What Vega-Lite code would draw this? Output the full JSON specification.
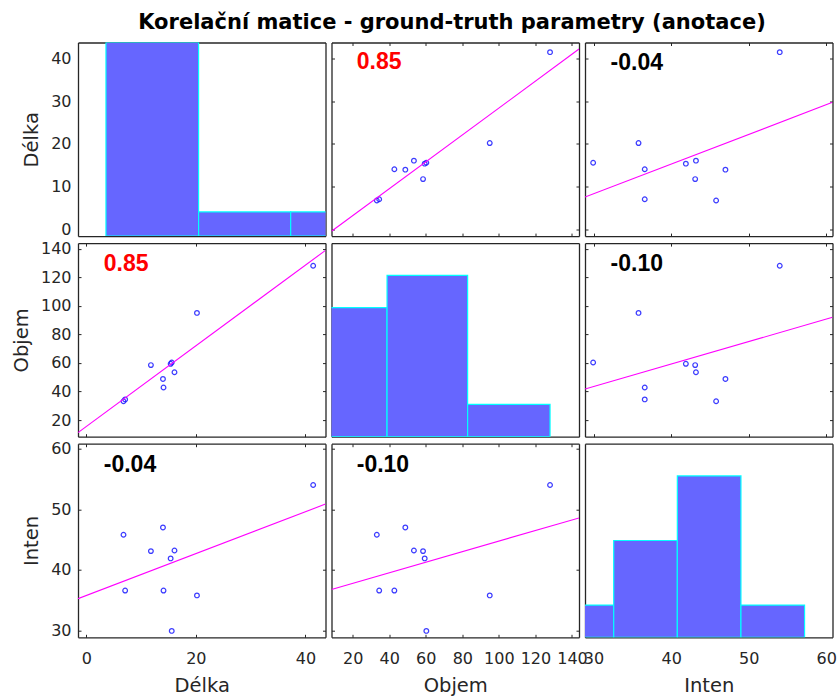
{
  "$schema": "https://vega.github.io/schema/vega-lite/v6.json",
  "background": "white",
  "padding": {"left": 11, "top": 11.5, "right": 2, "bottom": 3},
  "title": {"text": "Korelační matice - ground-truth parametry (anotace)", "font": "DejaVu Sans", "fontSize": 21, "fontWeight": "bold", "color": "#000000", "anchor": "middle", "frame": "bounds", "dx": 28, "offset": 9},
  "datasets": {
    "obs": [
      {"id": "A", "Délka": 6.8, "Objem": 33.2, "Inten": 45.8},
      {"id": "B", "Délka": 7.1, "Objem": 34.5, "Inten": 36.6},
      {"id": "C", "Délka": 11.8, "Objem": 58.5, "Inten": 43.1},
      {"id": "D", "Délka": 14.0, "Objem": 48.8, "Inten": 47.0},
      {"id": "E", "Délka": 14.1, "Objem": 42.8, "Inten": 36.6},
      {"id": "F", "Délka": 15.4, "Objem": 59.4, "Inten": 41.9},
      {"id": "G", "Délka": 16.1, "Objem": 53.5, "Inten": 43.2},
      {"id": "H", "Délka": 20.2, "Objem": 95.0, "Inten": 35.8},
      {"id": "I", "Délka": 15.6, "Objem": 60.3, "Inten": 29.95},
      {"id": "J", "Délka": 41.4, "Objem": 128.0, "Inten": 54.0}
    ],
    "hist": [
      {"var": "Délka", "lo": 3.6, "hi": 20.5, "count": 8},
      {"var": "Délka", "lo": 20.5, "hi": 37.3, "count": 1},
      {"var": "Délka", "lo": 37.3, "hi": 54.1, "count": 1},
      {"var": "Objem", "lo": -5.5, "hi": 38.8, "count": 4},
      {"var": "Objem", "lo": 38.8, "hi": 82.9, "count": 5},
      {"var": "Objem", "lo": 82.9, "hi": 128.0, "count": 1},
      {"var": "Inten", "lo": 24.4, "hi": 32.6, "count": 1},
      {"var": "Inten", "lo": 32.6, "hi": 40.8, "count": 3},
      {"var": "Inten", "lo": 40.8, "hi": 49.0, "count": 5},
      {"var": "Inten", "lo": 49.0, "hi": 57.2, "count": 1}
    ],
    "ann": [
      {"row": "Délka", "col": "Objem", "r": "0.85"},
      {"row": "Délka", "col": "Inten", "r": "-0.04"},
      {"row": "Objem", "col": "Délka", "r": "0.85"},
      {"row": "Objem", "col": "Inten", "r": "-0.10"},
      {"row": "Inten", "col": "Délka", "r": "-0.04"},
      {"row": "Inten", "col": "Objem", "r": "-0.10"}
    ]
  },
  "columns": 3,
  "spacing": {"row": 6.6, "column": 5.5},
  "bounds": "flush",
  "concat": [
    {
      "width": 247.5, "height": 193.6,
      "layer": [
        {"data": {"name": "obs"}, "mark": {"type": "point", "opacity": 0},
         "encoding": {
           "x": {"field": "Délka", "type": "quantitative", "scale": {"domain": [-1.5, 43.65], "nice": false, "zero": false}, "axis": {"orient": "bottom", "values": [0, 20, 40], "tickOpacity": 0, "labels": false, "title": null}},
           "y": {"field": "Délka", "type": "quantitative", "scale": {"domain": [-1.5, 43.65], "nice": false, "zero": false}, "axis": {"orient": "left", "values": [0, 10, 20, 30, 40], "tickOpacity": 0, "labels": true, "title": "Délka"}}}},
        {"data": {"name": "hist"}, "transform": [{"filter": "datum.var === 'Délka'"}],
         "mark": {"type": "rect", "fill": "#6666ff", "stroke": "#00ffff", "strokeWidth": 1.2, "clip": true},
         "encoding": {
           "x": {"field": "lo", "type": "quantitative", "axis": {"orient": "top", "tickOpacity": 0, "labels": false, "title": null}},
           "x2": {"field": "hi"},
           "y": {"field": "count", "type": "quantitative", "scale": {"domain": [0, 8], "nice": false}, "axis": {"orient": "right", "tickOpacity": 0, "labels": false, "title": null}},
           "y2": {"datum": 0}}}
      ],
      "resolve": {"scale": {"y": "independent"}, "axis": {"x": "independent", "y": "independent"}}
    },
    {
      "width": 247.5, "height": 193.6,
      "layer": [
        {"data": {"name": "obs"}, "mark": {"type": "point", "shape": "circle", "filled": false, "size": 22, "color": "#1a1aff", "strokeWidth": 1.2, "opacity": 0.85},
         "encoding": {
           "x": {"field": "Objem", "type": "quantitative", "scale": {"domain": [8.4, 143.85], "nice": false, "zero": false}, "axis": {"orient": "bottom", "values": [20, 40, 60, 80, 100, 120, 140], "labels": false, "title": null}},
           "y": {"field": "Délka", "type": "quantitative", "scale": {"domain": [-1.5, 43.65], "nice": false, "zero": false}, "axis": {"orient": "left", "values": [0, 10, 20, 30, 40], "labels": false, "title": null}}}},
        {"data": {"name": "obs"}, "transform": [{"regression": "Délka", "on": "Objem", "extent": [8.4, 143.85]}],
         "mark": {"type": "line", "color": "#ff00ff", "strokeWidth": 1.1, "clip": true},
         "encoding": {
           "x": {"field": "Objem", "type": "quantitative", "axis": {"orient": "top", "values": [20, 40, 60, 80, 100, 120, 140], "labels": false, "title": null}},
           "y": {"field": "Délka", "type": "quantitative", "axis": {"orient": "right", "values": [0, 10, 20, 30, 40], "labels": false, "title": null}}}},
        {"data": {"name": "ann"}, "transform": [{"filter": "datum.row === 'Délka' && datum.col === 'Objem'"}],
         "mark": {"type": "text", "align": "left", "baseline": "middle", "font": "Liberation Sans", "fontWeight": "bold", "fontSize": 23, "color": "#ff0000"},
         "encoding": {"text": {"field": "r"}, "x": {"datum": 22.2, "type": "quantitative", "axis": null}, "y": {"datum": 39.0, "type": "quantitative", "axis": null}}}
      ],
      "resolve": {"axis": {"x": "independent", "y": "independent"}}
    },
    {
      "width": 247.5, "height": 193.6,
      "layer": [
        {"data": {"name": "obs"}, "mark": {"type": "point", "shape": "circle", "filled": false, "size": 22, "color": "#1a1aff", "strokeWidth": 1.2, "opacity": 0.85},
         "encoding": {
           "x": {"field": "Inten", "type": "quantitative", "scale": {"domain": [28.9, 60.8], "nice": false, "zero": false}, "axis": {"orient": "bottom", "values": [30, 40, 50, 60], "labels": false, "title": null}},
           "y": {"field": "Délka", "type": "quantitative", "scale": {"domain": [-1.5, 43.65], "nice": false, "zero": false}, "axis": {"orient": "left", "values": [0, 10, 20, 30, 40], "labels": false, "title": null}}}},
        {"data": {"name": "obs"}, "transform": [{"regression": "Délka", "on": "Inten", "extent": [28.9, 60.8]}],
         "mark": {"type": "line", "color": "#ff00ff", "strokeWidth": 1.1, "clip": true},
         "encoding": {
           "x": {"field": "Inten", "type": "quantitative", "axis": {"orient": "top", "values": [30, 40, 50, 60], "labels": false, "title": null}},
           "y": {"field": "Délka", "type": "quantitative", "axis": {"orient": "right", "values": [0, 10, 20, 30, 40], "labels": false, "title": null}}}},
        {"data": {"name": "ann"}, "transform": [{"filter": "datum.row === 'Délka' && datum.col === 'Inten'"}],
         "mark": {"type": "text", "align": "left", "baseline": "middle", "font": "Liberation Sans", "fontWeight": "bold", "fontSize": 23, "color": "#000000"},
         "encoding": {"text": {"field": "r"}, "x": {"datum": 32.2, "type": "quantitative", "axis": null}, "y": {"datum": 38.8, "type": "quantitative", "axis": null}}}
      ],
      "resolve": {"axis": {"x": "independent", "y": "independent"}}
    },
    {
      "width": 247.5, "height": 193.6,
      "layer": [
        {"data": {"name": "obs"}, "mark": {"type": "point", "shape": "circle", "filled": false, "size": 22, "color": "#1a1aff", "strokeWidth": 1.2, "opacity": 0.85},
         "encoding": {
           "x": {"field": "Délka", "type": "quantitative", "scale": {"domain": [-1.5, 43.65], "nice": false, "zero": false}, "axis": {"orient": "bottom", "values": [0, 20, 40], "labels": false, "title": null}},
           "y": {"field": "Objem", "type": "quantitative", "scale": {"domain": [8.4, 143.85], "nice": false, "zero": false}, "axis": {"orient": "left", "values": [20, 40, 60, 80, 100, 120, 140], "labels": true, "title": "Objem"}}}},
        {"data": {"name": "obs"}, "transform": [{"regression": "Objem", "on": "Délka", "extent": [-1.5, 43.65]}],
         "mark": {"type": "line", "color": "#ff00ff", "strokeWidth": 1.1, "clip": true},
         "encoding": {
           "x": {"field": "Délka", "type": "quantitative", "axis": {"orient": "top", "values": [0, 20, 40], "labels": false, "title": null}},
           "y": {"field": "Objem", "type": "quantitative", "axis": {"orient": "right", "values": [20, 40, 60, 80, 100, 120, 140], "labels": false, "title": null}}}},
        {"data": {"name": "ann"}, "transform": [{"filter": "datum.row === 'Objem' && datum.col === 'Délka'"}],
         "mark": {"type": "text", "align": "left", "baseline": "middle", "font": "Liberation Sans", "fontWeight": "bold", "fontSize": 23, "color": "#ff0000"},
         "encoding": {"text": {"field": "r"}, "x": {"datum": 3.2, "type": "quantitative", "axis": null}, "y": {"datum": 129.5, "type": "quantitative", "axis": null}}}
      ],
      "resolve": {"axis": {"x": "independent", "y": "independent"}}
    },
    {
      "width": 247.5, "height": 193.6,
      "layer": [
        {"data": {"name": "obs"}, "mark": {"type": "point", "opacity": 0},
         "encoding": {
           "x": {"field": "Objem", "type": "quantitative", "scale": {"domain": [8.4, 143.85], "nice": false, "zero": false}, "axis": {"orient": "bottom", "values": [20, 40, 60, 80, 100, 120, 140], "tickOpacity": 0, "labels": false, "title": null}},
           "y": {"field": "Objem", "type": "quantitative", "scale": {"domain": [8.4, 143.85], "nice": false, "zero": false}, "axis": {"orient": "left", "values": [20, 40, 60, 80, 100, 120, 140], "tickOpacity": 0, "labels": false, "title": null}}}},
        {"data": {"name": "hist"}, "transform": [{"filter": "datum.var === 'Objem'"}],
         "mark": {"type": "rect", "fill": "#6666ff", "stroke": "#00ffff", "strokeWidth": 1.2, "clip": true},
         "encoding": {
           "x": {"field": "lo", "type": "quantitative", "axis": {"orient": "top", "tickOpacity": 0, "labels": false, "title": null}},
           "x2": {"field": "hi"},
           "y": {"field": "count", "type": "quantitative", "scale": {"domain": [0, 6], "nice": false}, "axis": {"orient": "right", "tickOpacity": 0, "labels": false, "title": null}},
           "y2": {"datum": 0}}}
      ],
      "resolve": {"scale": {"y": "independent"}, "axis": {"x": "independent", "y": "independent"}}
    },
    {
      "width": 247.5, "height": 193.6,
      "layer": [
        {"data": {"name": "obs"}, "mark": {"type": "point", "shape": "circle", "filled": false, "size": 22, "color": "#1a1aff", "strokeWidth": 1.2, "opacity": 0.85},
         "encoding": {
           "x": {"field": "Inten", "type": "quantitative", "scale": {"domain": [28.9, 60.8], "nice": false, "zero": false}, "axis": {"orient": "bottom", "values": [30, 40, 50, 60], "labels": false, "title": null}},
           "y": {"field": "Objem", "type": "quantitative", "scale": {"domain": [8.4, 143.85], "nice": false, "zero": false}, "axis": {"orient": "left", "values": [20, 40, 60, 80, 100, 120, 140], "labels": false, "title": null}}}},
        {"data": {"name": "obs"}, "transform": [{"regression": "Objem", "on": "Inten", "extent": [28.9, 60.8]}],
         "mark": {"type": "line", "color": "#ff00ff", "strokeWidth": 1.1, "clip": true},
         "encoding": {
           "x": {"field": "Inten", "type": "quantitative", "axis": {"orient": "top", "values": [30, 40, 50, 60], "labels": false, "title": null}},
           "y": {"field": "Objem", "type": "quantitative", "axis": {"orient": "right", "values": [20, 40, 60, 80, 100, 120, 140], "labels": false, "title": null}}}},
        {"data": {"name": "ann"}, "transform": [{"filter": "datum.row === 'Objem' && datum.col === 'Inten'"}],
         "mark": {"type": "text", "align": "left", "baseline": "middle", "font": "Liberation Sans", "fontWeight": "bold", "fontSize": 23, "color": "#000000"},
         "encoding": {"text": {"field": "r"}, "x": {"datum": 32.2, "type": "quantitative", "axis": null}, "y": {"datum": 129.5, "type": "quantitative", "axis": null}}}
      ],
      "resolve": {"axis": {"x": "independent", "y": "independent"}}
    },
    {
      "width": 247.5, "height": 193.6,
      "layer": [
        {"data": {"name": "obs"}, "mark": {"type": "point", "shape": "circle", "filled": false, "size": 22, "color": "#1a1aff", "strokeWidth": 1.2, "opacity": 0.85},
         "encoding": {
           "x": {"field": "Délka", "type": "quantitative", "scale": {"domain": [-1.5, 43.65], "nice": false, "zero": false}, "axis": {"orient": "bottom", "values": [0, 20, 40], "labels": true, "title": "Délka"}},
           "y": {"field": "Inten", "type": "quantitative", "scale": {"domain": [28.9, 60.8], "nice": false, "zero": false}, "axis": {"orient": "left", "values": [30, 40, 50, 60], "labels": true, "title": "Inten"}}}},
        {"data": {"name": "obs"}, "transform": [{"regression": "Inten", "on": "Délka", "extent": [-1.5, 43.65]}],
         "mark": {"type": "line", "color": "#ff00ff", "strokeWidth": 1.1, "clip": true},
         "encoding": {
           "x": {"field": "Délka", "type": "quantitative", "axis": {"orient": "top", "values": [0, 20, 40], "labels": false, "title": null}},
           "y": {"field": "Inten", "type": "quantitative", "axis": {"orient": "right", "values": [30, 40, 50, 60], "labels": false, "title": null}}}},
        {"data": {"name": "ann"}, "transform": [{"filter": "datum.row === 'Inten' && datum.col === 'Délka'"}],
         "mark": {"type": "text", "align": "left", "baseline": "middle", "font": "Liberation Sans", "fontWeight": "bold", "fontSize": 23, "color": "#000000"},
         "encoding": {"text": {"field": "r"}, "x": {"datum": 3.2, "type": "quantitative", "axis": null}, "y": {"datum": 57.3, "type": "quantitative", "axis": null}}}
      ],
      "resolve": {"axis": {"x": "independent", "y": "independent"}}
    },
    {
      "width": 247.5, "height": 193.6,
      "layer": [
        {"data": {"name": "obs"}, "mark": {"type": "point", "shape": "circle", "filled": false, "size": 22, "color": "#1a1aff", "strokeWidth": 1.2, "opacity": 0.85},
         "encoding": {
           "x": {"field": "Objem", "type": "quantitative", "scale": {"domain": [8.4, 143.85], "nice": false, "zero": false}, "axis": {"orient": "bottom", "values": [20, 40, 60, 80, 100, 120, 140], "labels": true, "title": "Objem"}},
           "y": {"field": "Inten", "type": "quantitative", "scale": {"domain": [28.9, 60.8], "nice": false, "zero": false}, "axis": {"orient": "left", "values": [30, 40, 50, 60], "labels": false, "title": null}}}},
        {"data": {"name": "obs"}, "transform": [{"regression": "Inten", "on": "Objem", "extent": [8.4, 143.85]}],
         "mark": {"type": "line", "color": "#ff00ff", "strokeWidth": 1.1, "clip": true},
         "encoding": {
           "x": {"field": "Objem", "type": "quantitative", "axis": {"orient": "top", "values": [20, 40, 60, 80, 100, 120, 140], "labels": false, "title": null}},
           "y": {"field": "Inten", "type": "quantitative", "axis": {"orient": "right", "values": [30, 40, 50, 60], "labels": false, "title": null}}}},
        {"data": {"name": "ann"}, "transform": [{"filter": "datum.row === 'Inten' && datum.col === 'Objem'"}],
         "mark": {"type": "text", "align": "left", "baseline": "middle", "font": "Liberation Sans", "fontWeight": "bold", "fontSize": 23, "color": "#000000"},
         "encoding": {"text": {"field": "r"}, "x": {"datum": 22.2, "type": "quantitative", "axis": null}, "y": {"datum": 57.3, "type": "quantitative", "axis": null}}}
      ],
      "resolve": {"axis": {"x": "independent", "y": "independent"}}
    },
    {
      "width": 247.5, "height": 193.6,
      "layer": [
        {"data": {"name": "obs"}, "mark": {"type": "point", "opacity": 0},
         "encoding": {
           "x": {"field": "Inten", "type": "quantitative", "scale": {"domain": [28.9, 60.8], "nice": false, "zero": false}, "axis": {"orient": "bottom", "values": [30, 40, 50, 60], "tickOpacity": 0, "labels": true, "title": "Inten"}},
           "y": {"field": "Inten", "type": "quantitative", "scale": {"domain": [28.9, 60.8], "nice": false, "zero": false}, "axis": {"orient": "left", "values": [30, 40, 50, 60], "tickOpacity": 0, "labels": false, "title": null}}}},
        {"data": {"name": "hist"}, "transform": [{"filter": "datum.var === 'Inten'"}],
         "mark": {"type": "rect", "fill": "#6666ff", "stroke": "#00ffff", "strokeWidth": 1.2, "clip": true},
         "encoding": {
           "x": {"field": "lo", "type": "quantitative", "axis": {"orient": "top", "tickOpacity": 0, "labels": false, "title": null}},
           "x2": {"field": "hi"},
           "y": {"field": "count", "type": "quantitative", "scale": {"domain": [0, 6], "nice": false}, "axis": {"orient": "right", "tickOpacity": 0, "labels": false, "title": null}},
           "y2": {"datum": 0}}}
      ],
      "resolve": {"scale": {"y": "independent"}, "axis": {"x": "independent", "y": "independent"}}
    }
  ],
  "config": {
    "view": {"stroke": null},
    "axis": {
      "grid": false,
      "domainColor": "#262626",
      "domainWidth": 1.3,
      "tickColor": "#262626",
      "tickSize": -3,
      "tickWidth": 1,
      "labelFont": "DejaVu Sans",
      "labelFontSize": 16,
      "labelColor": "#262626",
      "labelFlush": false,
      "labelOverlap": false,
      "labelBound": false,
      "titleFont": "DejaVu Sans",
      "titleFontSize": 19.5,
      "titleFontWeight": "normal",
      "titleColor": "#262626",
      "zindex": 1
    },
    "axisX": {"labelPadding": 16, "titlePadding": 10},
    "axisY": {"labelPadding": 10, "titlePadding": 9}
  }
}
